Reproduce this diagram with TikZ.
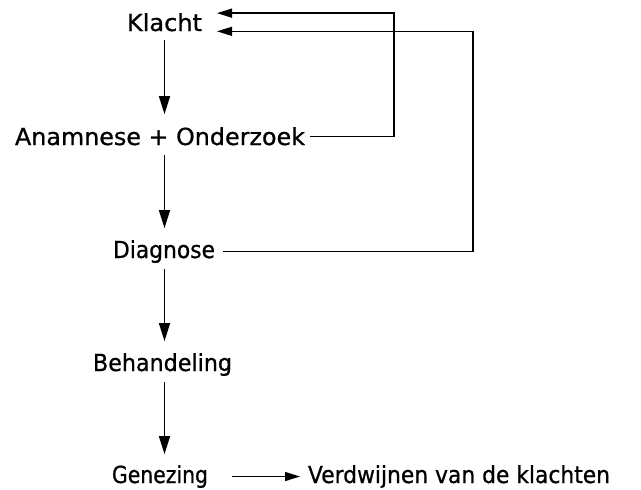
\documentclass[tikz,border=0pt]{standalone}
\usepackage{fontspec}
\newfontfamily\dfont[FakeBold=0.8]{DejaVu Sans}
\usepackage{graphicx}
\usetikzlibrary{arrows.meta}
\newcommand\fitw[2]{\resizebox{#1}{\height}{#2}}
\tikzset{
  lbl/.style={inner sep=0pt, outer sep=0pt, anchor=base west, font=\dfont\fontsize{23.5}{28}\selectfont},
  arr/.style={line width=1.4pt, -{Triangle[length=18pt,width=11pt]}},
  fb/.style={line width=1.4pt, -{Triangle[length=15pt,width=9pt]}}
}
\begin{document}
\begin{tikzpicture}[x=1pt,y=-1pt]
\useasboundingbox (0,0) rectangle (641,490);
\node[lbl] (klacht) at (127,31) {\fitw{75pt}{Klacht}};
\node[lbl] (anam) at (15,145) {\fitw{290pt}{Anamnese + Onderzoek}};
\node[lbl] (diag) at (113,258) {\fitw{102pt}{Diagnose}};
\node[lbl] (beh) at (93,371) {\fitw{139pt}{Behandeling}};
\node[lbl] (gen) at (112,483) {\fitw{96pt}{Genezing}};
\node[lbl] (verd) at (308,483) {\fitw{302pt}{Verdwijnen van de klachten}};
\coordinate (c1) at (394,0);
\coordinate (c2) at (473,0);
% main flow
\draw[arr, shorten <=9pt, shorten >=13pt] (klacht.south) -- (klacht.south |- anam.north);
\draw[arr, shorten <=10pt, shorten >=12pt] (klacht.south |- anam.south) -- (klacht.south |- diag.north);
\draw[arr, shorten <=6pt, shorten >=12pt] (klacht.south |- diag.south) -- (klacht.south |- beh.north);
\draw[arr, shorten <=6pt, shorten >=11pt] (klacht.south |- beh.south) -- (klacht.south |- gen.north);
\draw[fb, shorten <=24pt, shorten >=8pt] (gen.east) -- (gen.east -| verd.west);
% feedback
\draw[fb, shorten <=5pt, shorten >=15pt] (anam.east) -| (c1 |- klacht.north east) -- (klacht.north east);
\draw[fb, shorten <=8pt, shorten >=15pt] (diag.east) -| (c2 |- klacht.south east) -- (klacht.south east);
\end{tikzpicture}
\end{document}
